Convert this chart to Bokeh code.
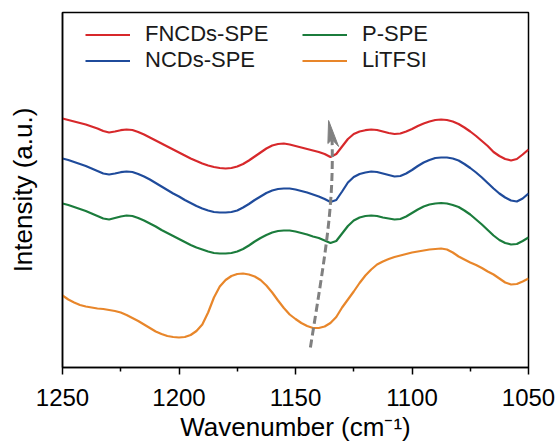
from bokeh.plotting import figure
from bokeh.models import Range1d, FixedTicker, Legend, LegendItem
from bokeh.embed import file_html
from bokeh.resources import INLINE

# ---- data (every 2.5 cm-1) ----
wavenumber = [1250 - 2.5 * i for i in range(81)]

fncds_spe = [249, 247.5, 246, 244.5, 243, 241, 239, 236.5, 235, 236,
             237.3, 238, 237.5, 235.5, 233, 230, 227, 224, 221, 218,
             215, 212, 209, 206.5, 204, 202, 200.5, 199.5, 199, 199.5,
             201, 203.5, 207, 211, 215, 219, 222, 223.5, 224, 223,
             221.5, 220, 218.5, 217, 215.5, 213.5, 210.5, 213.5, 221, 228.5,
             233.5, 236, 237.3, 238, 237.5, 236, 234.5, 233.5, 234, 236,
             238.5, 241.5, 244, 246, 247.5, 248, 247.5, 246, 243.5, 240,
             236, 231.5, 226.5, 221.5, 215.5, 211.5, 208.5, 207, 208.5, 213,
             218]

ncds_spe = [209, 207.5, 205.5, 203.5, 201.5, 199, 196.5, 194, 193, 194,
            195.3, 196, 195.5, 193.5, 191, 188, 184.5, 181, 177.5, 174,
            171, 167.5, 164.5, 161.5, 159, 157, 155.5, 155, 155, 155.5,
            157, 160, 163.5, 167.5, 171, 174.5, 177, 178.5, 179, 179,
            178, 176.5, 175, 173, 171, 168.5, 165.5, 167.5, 176, 185,
            190.5, 193.5, 195, 196, 195.5, 194, 192.5, 191, 191.5, 194,
            197.5, 201.5, 205, 207.5, 209.5, 210, 210, 209, 207, 203.5,
            199.5, 195, 190, 184.5, 179, 174, 170, 167, 166, 169,
            174]

p_spe = [164, 162.5, 160.5, 158.5, 156.5, 154, 151.5, 149, 148, 149.5,
         151, 152, 151.5, 149.5, 147, 144, 141, 137.5, 134.5, 131.5,
         128.5, 125.5, 122.5, 120, 118, 116, 114.5, 114, 114, 114.5,
         116, 118.5, 122, 126, 129.5, 132.5, 135, 136.5, 137, 137,
         136, 134.5, 133, 131, 129.5, 127, 124.5, 126.5, 134, 141.5,
         147, 150, 151.5, 152, 151.5, 150, 149, 148, 148.5, 151,
         154.5, 158, 161, 163, 164, 164.5, 164, 162.5, 160.5, 157,
         153, 148, 143, 137.5, 132, 127.5, 124.5, 123, 123.5, 126.5,
         130]

litfsi = [72, 68, 65, 62.5, 61, 60, 59, 58.5, 57.5, 56.5,
          55, 52.5, 49.5, 46.5, 43, 39.5, 36, 33.5, 31.5, 30.5,
          30, 30.5, 32.5, 36.5, 43, 55, 70, 81, 87.5, 91.5,
          93.5, 94, 93, 91, 87.5, 82, 75, 67, 59.5, 53,
          48.5, 44.5, 41.5, 39.5, 39.5, 41, 44.5, 50.5, 60, 68,
          76, 84.5, 92, 98, 103, 106, 108.5, 110.5, 112, 113.5,
          115, 116, 117, 118, 118.5, 119, 118, 115, 111, 108,
          105, 102.5, 99.5, 96, 93, 89, 85, 83, 83.5, 86,
          89]

series_names = ["FNCDs-SPE", "NCDs-SPE", "P-SPE", "LiTFSI"]
series_colors = ["#d7282b", "#1f4b9b", "#1b7c3c", "#e8862a"]

x_ticks = [1250, 1200, 1150, 1100, 1050]
x_minor_ticks = [1225, 1175, 1125, 1075]

# dashed guide arrow (annotation)
arrow_start = (1143.6, 20)
arrow_ctrl1 = (1137.5, 110)
arrow_ctrl2 = (1133.5, 160)
arrow_end = (1134.3, 228)
arrow_head_x = [1135.8, 1136.1, 1134.3, 1131.5]
arrow_head_y = [247, 224, 228, 221]

FONT = "Liberation Sans"

p = figure(width=558, height=445, output_backend="svg", toolbar_location=None,
           x_range=Range1d(1250, 1050), y_range=Range1d(0, 355),
           min_border_left=62, min_border_right=30, min_border_top=12, min_border_bottom=78)

p.xgrid.visible = False
p.ygrid.visible = False
p.outline_line_color = "black"
p.outline_line_width = 1.5
p.outline_line_alpha = 1.0
p.background_fill_color = "white"
p.border_fill_color = "white"

renderers = []
for ys, col in zip([fncds_spe, ncds_spe, p_spe, litfsi], series_colors):
    r = p.line(wavenumber, ys, line_color=col, line_width=2.2, line_join="round")
    renderers.append(r)

p.bezier(x0=[arrow_start[0]], y0=[arrow_start[1]], x1=[arrow_end[0]], y1=[arrow_end[1]],
         cx0=[arrow_ctrl1[0]], cy0=[arrow_ctrl1[1]], cx1=[arrow_ctrl2[0]], cy1=[arrow_ctrl2[1]],
         line_color="#808080", line_width=3, line_dash="8 4")
p.patch(arrow_head_x, arrow_head_y, fill_color="#808080", line_color="#808080", line_width=1)

# x axis
xa = p.xaxis[0]
xa.ticker = FixedTicker(ticks=x_ticks, minor_ticks=x_minor_ticks)
xa.major_tick_out = 7
xa.major_tick_in = 0
xa.minor_tick_out = 4
xa.minor_tick_in = 0
xa.major_tick_line_width = 1.5
xa.minor_tick_line_width = 1.5
xa.axis_line_width = 1.5
xa.major_tick_line_color = "black"
xa.minor_tick_line_color = "black"
xa.axis_line_color = "black"
xa.major_label_text_font = FONT
xa.major_label_text_font_size = "24px"
xa.major_label_text_color = "black"
xa.major_label_standoff = 14
xa.axis_label = "Wavenumber (cm\u207b\u00b9)"
xa.axis_label_text_font = FONT
xa.axis_label_text_font_size = "26px"
xa.axis_label_text_font_style = "normal"
xa.axis_label_text_color = "black"
xa.axis_label_standoff = 3

# y axis
ya = p.yaxis[0]
ya.ticker = FixedTicker(ticks=[])
ya.major_tick_out = 0
ya.major_tick_in = 0
ya.minor_tick_out = 0
ya.minor_tick_in = 0
ya.axis_line_width = 1.5
ya.axis_line_color = "black"
ya.major_label_text_font_size = "0px"
ya.axis_label = "Intensity (a.u.)"
ya.axis_label_text_font = FONT
ya.axis_label_text_font_size = "26px"
ya.axis_label_text_font_style = "normal"
ya.axis_label_text_color = "black"
ya.axis_label_standoff = 25

def make_legend(items, loc):
    lg = Legend(items=items, location=loc, orientation="vertical")
    lg.border_line_color = None
    lg.background_fill_alpha = 0
    lg.padding = 0
    lg.margin = 0
    lg.spacing = 0
    lg.glyph_width = 45
    lg.glyph_height = 25
    lg.label_height = 25
    lg.label_standoff = 15
    lg.label_text_font = FONT
    lg.label_text_font_size = "22px"
    lg.label_text_color = "#1a1a1a"
    return lg

leg1 = make_legend([LegendItem(label=series_names[0], renderers=[renderers[0]]),
                    LegendItem(label=series_names[1], renderers=[renderers[1]])], (23, 294))
leg2 = make_legend([LegendItem(label=series_names[2], renderers=[renderers[2]]),
                    LegendItem(label=series_names[3], renderers=[renderers[3]])], (240, 294))
p.add_layout(leg1)
p.add_layout(leg2)

open("out.html", "w").write(file_html(p, INLINE))
